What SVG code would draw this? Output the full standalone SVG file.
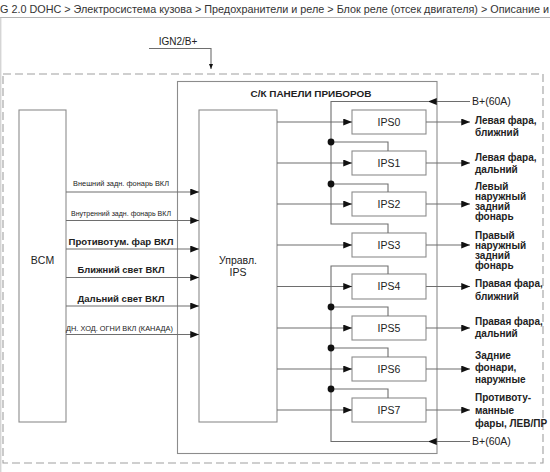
<svg xmlns="http://www.w3.org/2000/svg" width="550" height="472" viewBox="0 0 550 472">
<defs>
<style>
text{font-family:"Liberation Sans",Arial,sans-serif;fill:#222}
.box{fill:#fff;stroke:#8c8c8c;stroke-width:1.1}
.ln{fill:none;stroke:#6e6e6e;stroke-width:1.1}
.dash{fill:none;stroke:#a0a0a0;stroke-width:1.1;stroke-dasharray:8 4}
.lbl{font-size:10px;font-weight:bold}
.ips{font-size:10.5px;text-anchor:middle}
.sm{font-size:7px;text-anchor:middle}
.big{font-size:9.5px;font-weight:bold;text-anchor:middle}
</style>
<marker id="arr" viewBox="0 0 10 8" refX="10" refY="4" markerWidth="9" markerHeight="7" markerUnits="userSpaceOnUse" orient="auto">
<path d="M0,0 L10,4 L0,8 z" fill="#111"/>
</marker>
<marker id="arrs" viewBox="0 0 10 8" refX="10" refY="4" markerWidth="5" markerHeight="4" markerUnits="userSpaceOnUse" orient="auto">
<path d="M0,0 L10,4 L0,8 z" fill="#111"/>
</marker>
</defs>
<rect width="550" height="472" fill="#fff"/>
<g id="header">
<text x="0" y="12.5" style="font-size:11px;fill:#333" textLength="549" lengthAdjust="spacingAndGlyphs">G 2.0 DOHC &gt; Электросистема кузова &gt; Предохранители и реле &gt; Блок реле (отсек двигателя) &gt; Описание и</text>
<line x1="0" y1="17.5" x2="550" y2="17.5" stroke="#b4b4b4" stroke-width="1"/>
<line x1="0.8" y1="17.5" x2="0.8" y2="472" stroke="#c4c4c4" stroke-width="1"/>
</g>
<rect id="frame" class="dash" x="3" y="74" width="540" height="389"/>
<g id="panel">
<rect class="box" x="177.5" y="81.5" width="259.5" height="372"/>
<text x="311" y="96.5" style="font-size:9.5px;font-weight:bold;text-anchor:middle" textLength="121" lengthAdjust="spacingAndGlyphs">С/К ПАНЕЛИ ПРИБОРОВ</text>
</g>
<g id="bcm">
<rect class="box" x="19" y="110" width="47" height="312"/>
<text x="42.5" y="264" style="font-size:10.5px;text-anchor:middle">BCM</text>
</g>
<g id="ctrl">
<rect class="box" x="199" y="110" width="78" height="312"/>
<text x="238" y="264" style="font-size:10.5px;text-anchor:middle">Управл.</text>
<text x="238" y="276" style="font-size:10.5px;text-anchor:middle">IPS</text>
</g>
<g id="ips0"><rect class="box" x="352" y="110" width="74" height="24"/><text class="ips" x="389" y="126">IPS0</text></g>
<g id="ips1"><rect class="box" x="352" y="151" width="74" height="24"/><text class="ips" x="389" y="167">IPS1</text></g>
<g id="ips2"><rect class="box" x="352" y="192" width="74" height="24"/><text class="ips" x="389" y="208">IPS2</text></g>
<g id="ips3"><rect class="box" x="352" y="233" width="74" height="24"/><text class="ips" x="389" y="249">IPS3</text></g>
<g id="ips4"><rect class="box" x="352" y="274" width="74" height="25"/><text class="ips" x="389" y="290">IPS4</text></g>
<g id="ips5"><rect class="box" x="352" y="316" width="74" height="24"/><text class="ips" x="389" y="332">IPS5</text></g>
<g id="ips6"><rect class="box" x="352" y="357" width="74" height="24"/><text class="ips" x="389" y="373">IPS6</text></g>
<g id="ips7"><rect class="box" x="352" y="398" width="74" height="24"/><text class="ips" x="389" y="414">IPS7</text></g>
<g id="connectors">
<path class="ln" d="M149,48.5 H211 V69" marker-end="url(#arrs)"/>
<g>
<line class="ln" x1="66" y1="192" x2="199" y2="192" marker-end="url(#arr)"/>
<line class="ln" x1="66" y1="220.5" x2="199" y2="220.5" marker-end="url(#arr)"/>
<line class="ln" x1="66" y1="249" x2="199" y2="249" marker-end="url(#arr)"/>
<line class="ln" x1="66" y1="277.5" x2="199" y2="277.5" marker-end="url(#arr)"/>
<line class="ln" x1="66" y1="306" x2="199" y2="306" marker-end="url(#arr)"/>
<line class="ln" x1="66" y1="334.5" x2="199" y2="334.5" marker-end="url(#arr)"/>
</g>
<g>
<line class="ln" x1="277" y1="122" x2="352" y2="122" marker-end="url(#arr)"/>
<line class="ln" x1="277" y1="163" x2="352" y2="163" marker-end="url(#arr)"/>
<line class="ln" x1="277" y1="204" x2="352" y2="204" marker-end="url(#arr)"/>
<line class="ln" x1="277" y1="245" x2="352" y2="245" marker-end="url(#arr)"/>
<line class="ln" x1="277" y1="286.5" x2="352" y2="286.5" marker-end="url(#arr)"/>
<line class="ln" x1="277" y1="328" x2="352" y2="328" marker-end="url(#arr)"/>
<line class="ln" x1="277" y1="369" x2="352" y2="369" marker-end="url(#arr)"/>
<line class="ln" x1="277" y1="410" x2="352" y2="410" marker-end="url(#arr)"/>
</g>
<g>
<line class="ln" x1="426" y1="122" x2="470" y2="122" marker-end="url(#arr)"/>
<line class="ln" x1="426" y1="163" x2="470" y2="163" marker-end="url(#arr)"/>
<line class="ln" x1="426" y1="204" x2="470" y2="204" marker-end="url(#arr)"/>
<line class="ln" x1="426" y1="245" x2="470" y2="245" marker-end="url(#arr)"/>
<line class="ln" x1="426" y1="286.5" x2="470" y2="286.5" marker-end="url(#arr)"/>
<line class="ln" x1="426" y1="328" x2="470" y2="328" marker-end="url(#arr)"/>
<line class="ln" x1="426" y1="369" x2="470" y2="369" marker-end="url(#arr)"/>
<line class="ln" x1="426" y1="410" x2="470" y2="410" marker-end="url(#arr)"/>
</g>
<line class="ln" x1="470" y1="101.5" x2="428" y2="101.5" marker-end="url(#arr)"/>
<line class="ln" x1="470" y1="441.5" x2="428" y2="441.5" marker-end="url(#arr)"/>
<path class="ln" d="M429,101.5 H331 V224 H388 V233"/>
<path class="ln" d="M331,142 H388 V151 M331,184 H388 V192"/>
<path class="ln" d="M429,441.5 H331 V266 H388 V274"/>
<path class="ln" d="M331,307 H388 V316 M331,348 H388 V357 M331,389 H388 V398"/>
<g fill="#111">
<circle cx="331" cy="142" r="3.4"/>
<circle cx="331" cy="184" r="3.4"/>
<circle cx="331" cy="307" r="3.4"/>
<circle cx="331" cy="348" r="3.4"/>
<circle cx="331" cy="389" r="3.4"/>
</g>
</g>
<g id="labels">
<text x="178" y="45" style="font-size:10px;text-anchor:middle">IGN2/B+</text>
<text x="472" y="105" style="font-size:10.5px">B+(60A)</text>
<text x="472" y="445" style="font-size:10.5px">B+(60A)</text>
<text class="sm" x="121" y="186" textLength="96" lengthAdjust="spacingAndGlyphs">Внешний задн. фонарь ВКЛ</text>
<text class="sm" x="121" y="215.5" textLength="100" lengthAdjust="spacingAndGlyphs">Внутренний задн. фонарь ВКЛ</text>
<text class="big" x="121" y="245" textLength="105" lengthAdjust="spacingAndGlyphs">Противотум. фар ВКЛ</text>
<text class="big" x="121" y="273" textLength="87" lengthAdjust="spacingAndGlyphs">Ближний свет ВКЛ</text>
<text class="big" x="121" y="302" textLength="87" lengthAdjust="spacingAndGlyphs">Дальний свет ВКЛ</text>
<text class="sm" x="119.5" y="331" textLength="107" lengthAdjust="spacingAndGlyphs">ДН. ХОД. ОГНИ ВКЛ (КАНАДА)</text>
<text class="lbl" x="475" y="123.5">Левая фара,</text>
<text class="lbl" x="475" y="135.5">ближний</text>
<text class="lbl" x="475" y="160.5">Левая фара,</text>
<text class="lbl" x="475" y="172.5">дальний</text>
<text class="lbl" x="475" y="189.5">Левый</text>
<text class="lbl" x="475" y="200">наружный</text>
<text class="lbl" x="475" y="210">задний</text>
<text class="lbl" x="475" y="220">фонарь</text>
<text class="lbl" x="475" y="238.5">Правый</text>
<text class="lbl" x="475" y="248.5">наружный</text>
<text class="lbl" x="475" y="258.5">задний</text>
<text class="lbl" x="475" y="268.5">фонарь</text>
<text class="lbl" x="475" y="287">Правая фара,</text>
<text class="lbl" x="475" y="299.5">ближний</text>
<text class="lbl" x="475" y="324.5">Правая фара,</text>
<text class="lbl" x="475" y="336.5">дальний</text>
<text class="lbl" x="475" y="358.5">Задние</text>
<text class="lbl" x="475" y="371">фонари,</text>
<text class="lbl" x="475" y="382.5">наружные</text>
<text class="lbl" x="475" y="400.5">Противоту-</text>
<text class="lbl" x="475" y="414">манные</text>
<text class="lbl" x="475" y="426.5">фары, ЛЕВ/ПР</text>
</g>
</svg>
